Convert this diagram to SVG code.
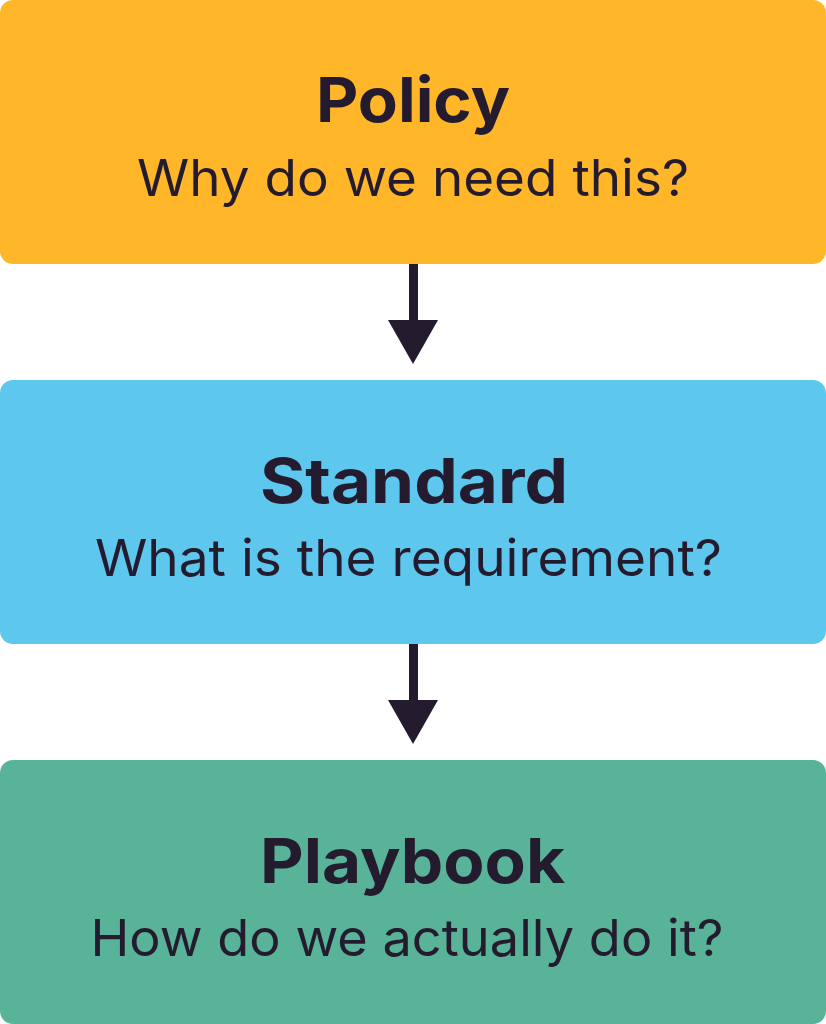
<svg xmlns="http://www.w3.org/2000/svg" width="826" height="1024" viewBox="0 0 826 1024">
  <style>
    .title { font-family: Inter, "Noto Sans", "Liberation Sans", sans-serif; font-weight: 700; font-size: 62px; fill: #241C2E; }
    .sub { font-family: Inter, "Noto Sans", "Liberation Sans", sans-serif; font-weight: 400; font-size: 51px; fill: #241C2E; }
    .conn { stroke: #241C2E; stroke-width: 9; fill: none; }
    .head { fill: #241C2E; }
  </style>
  <rect x="0" y="0" width="826" height="1024" fill="#FFFFFF"/>
  <g id="policy">
    <rect x="0" y="0" width="826" height="264" rx="13" ry="13" fill="#FFB729"/>
    <text class="title" x="413" y="122" text-anchor="middle" textLength="194" lengthAdjust="spacingAndGlyphs">Policy</text>
    <text class="sub" x="413" y="196" text-anchor="middle" textLength="552" lengthAdjust="spacingAndGlyphs">Why do we need this?</text>
  </g>
  <g id="standard">
    <rect x="0" y="380" width="826" height="264" rx="13" ry="13" fill="#5DC7EE"/>
    <text class="title" x="414" y="503" text-anchor="middle" textLength="308" lengthAdjust="spacingAndGlyphs">Standard</text>
    <text class="sub" x="408.5" y="576" text-anchor="middle" textLength="627" lengthAdjust="spacingAndGlyphs">What is the requirement?</text>
  </g>
  <g id="playbook">
    <rect x="0" y="760" width="826" height="264" rx="13" ry="13" fill="#58B399"/>
    <text class="title" x="412.5" y="883" text-anchor="middle" textLength="305" lengthAdjust="spacingAndGlyphs">Playbook</text>
    <text class="sub" x="407" y="956" text-anchor="middle" textLength="633" lengthAdjust="spacingAndGlyphs">How do we actually do it?</text>
  </g>
  <g id="connectors">
    <line class="conn" x1="413.5" y1="264" x2="413.5" y2="322"/>
    <polygon class="head" points="388,320 438,320 413,364"/>
    <line class="conn" x1="413.5" y1="644" x2="413.5" y2="702"/>
    <polygon class="head" points="388,700 438,700 413,744"/>
  </g>
</svg>
